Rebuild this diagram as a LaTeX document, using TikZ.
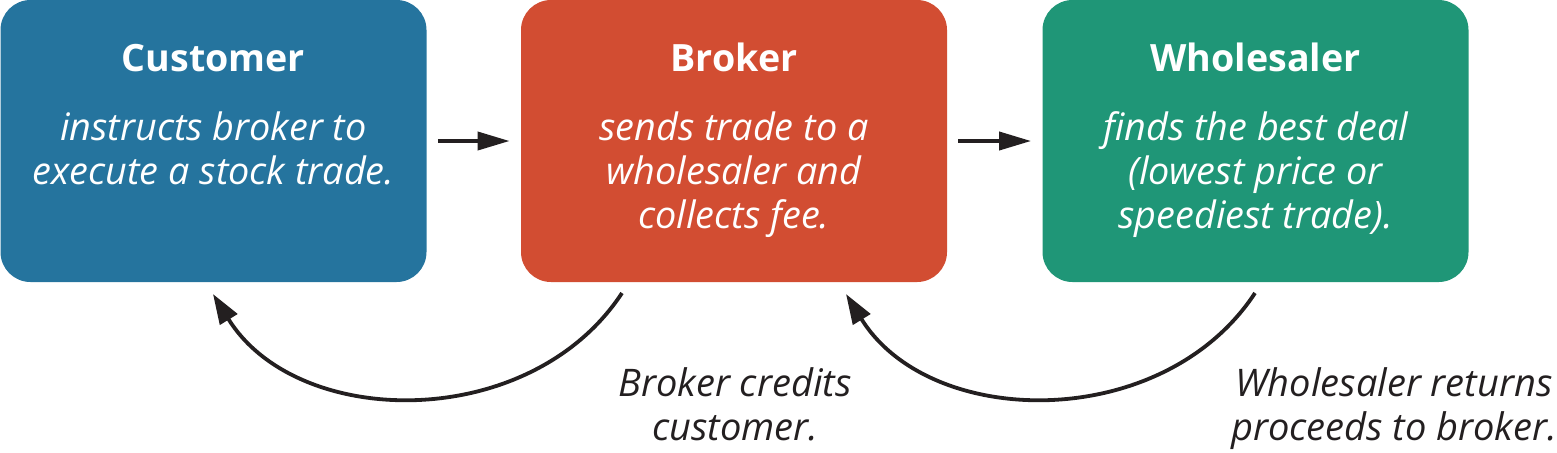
\documentclass[tikz,border=0pt]{standalone}
\usepackage{fontspec}
\setmainfont{Open Sans}
\usetikzlibrary{arrows.meta}

\definecolor{custblue}{RGB}{37,116,158}
\definecolor{brokred}{RGB}{210,77,50}
\definecolor{wholgreen}{RGB}{31,150,119}
\definecolor{inkblack}{RGB}{35,31,32}

\begin{document}
\begin{tikzpicture}[x=0.5pt, y=-0.5pt,
    box/.style={rounded corners=15pt, minimum width=213pt, minimum height=141pt, inner sep=0pt},
    title/.style={anchor=base, text=white, font=\fontsize{18.8}{22}\selectfont\bfseries},
    body/.style={anchor=base, align=center, text=white, font=\fontsize{18.9}{22}\selectfont\itshape},
    note/.style={anchor=base, align=center, text=inkblack, font=\fontsize{19}{22}\selectfont\itshape},
    flow/.style={draw=inkblack, line width=1.9pt, -{Triangle[length=16pt, width=9pt]}, shorten <=5.5pt, shorten >=5.5pt},
    back/.style={draw=inkblack, line width=1.9pt, -{Triangle[length=15pt, width=10pt]}}]
    %\draw[lightgray] (0, 0) grid (1557, 452);
    \useasboundingbox (0, 0) rectangle (1557, 452);

    \node[box, fill=custblue](cust) at (213.5, 141) {};
    \node[box, fill=brokred](brok) at (734, 141) {};
    \node[box, fill=wholgreen](whol) at (1255.5, 141) {};

    \node[title](custtitle) at (213.5, 71) {Customer};
    \node[title](broktitle) at (734, 71) {Broker};
    \node[title](wholtitle) at (1255.5, 71) {Wholesaler};

    % base anchor sits on the last line
    \node[body](custbody) at (213.5, 184) {instructs broker to\\execute a stock trade.};
    \node[body](brokbody) at (734, 228) {sends trade to a\\wholesaler and\\collects fee.};
    \node[body](wholbody) at (1255.5, 228) {finds the best deal\\(lowest price or\\speediest trade).};

    \draw[flow] (cust.east |- 0, 141) -- (brok.west |- 0, 141);
    \draw[flow] (brok.east |- 0, 141) -- (whol.west |- 0, 141);

    \coordinate (brokout) at (622, 293);
    \coordinate (custin) at (213, 294);
    \coordinate (wholout) at (1255, 293);
    \coordinate (brokin) at (846, 294);
    \draw[back] (brokout) .. controls +(-92, 140) and +(84, 136) .. (custin);
    \draw[back] (wholout) .. controls +(-92, 140) and +(84, 136) .. (brokin);

    \node[note](credits) at (735, 440) {Broker credits\\customer.};
    \node[note](returns) at (1394, 440) {Wholesaler returns\\proceeds to broker.};
\end{tikzpicture}
\end{document}
